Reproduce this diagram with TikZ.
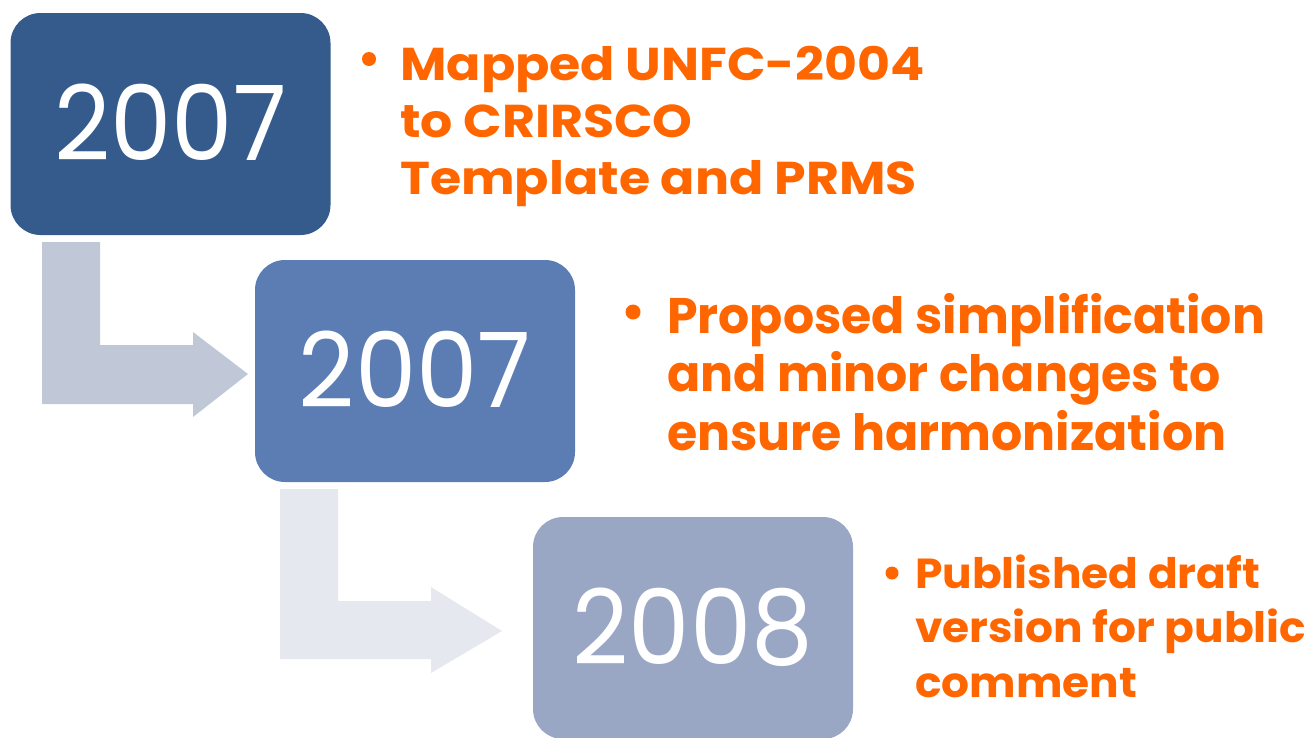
\documentclass[tikz,border=0pt]{standalone}
\usepackage{fontspec}
\setmainfont{Poppins}
\definecolor{boxA}{HTML}{355A8C}
\definecolor{boxB}{HTML}{5B7DB4}
\definecolor{boxC}{HTML}{9AA7C4}
\definecolor{arrA}{HTML}{C0C8D8}
\definecolor{arrB}{HTML}{E6E8EF}
\definecolor{orng}{HTML}{FF6600}
\tikzset{
  yearbox/.style={rounded corners=30pt, minimum width=320pt, minimum height=222pt, inner sep=0pt,
    text=white, font=\fontsize{104}{110}\selectfont},
  bullettext/.style={anchor=base west, inner sep=0pt, text=orng},
  bulletdot/.style={fill=orng},
}
\newcommand{\yr}[1]{\raisebox{3.5pt}{\scalebox{0.94}[1]{#1}}}
\newcommand{\lines}[6]{\scalebox{#2}[1]{\bfseries\fontsize{#1}{#3}\selectfont\begin{tabular}[t]{@{}l@{}}#4\\#5\\#6\end{tabular}}}
\begin{document}
\begin{tikzpicture}[x=1pt,y=-1pt]
\useasboundingbox (0,0) rectangle (1314,737);
% arrows
\fill[arrA] (42,242) -- (100,242) -- (100,345) -- (193,345) -- (193,332) -- (248,374) -- (193,417) -- (193,404) -- (42,404) -- cycle;
\fill[arrB] (280,489) -- (338,489) -- (338,601) -- (431,601) -- (431,587) -- (502,631) -- (431,673) -- (431,659) -- (280,659) -- cycle;
% boxes
\node[yearbox, fill=boxA] (b1) at (170.5,124) {\yr{2007}};
\node[yearbox, fill=boxB] (b2) at (415,371) {\yr{2007}};
\node[yearbox, fill=boxC] (b3) at (693,628) {\yr{2008}};
% bullets
\fill[bulletdot] (369,59) circle (7);
\fill[bulletdot] (633,312) circle (7.5);
\fill[bulletdot] (892,573) circle (6.5);
% texts
\node[bullettext] (t1) at (400,80) {\lines{46}{1.10}{57}{Mapped UNFC-2004}{to CRIRSCO}{Template and PRMS}};
\node[bullettext] (t2) at (667,333) {\lines{50}{0.98}{58.5}{Proposed simplification}{and minor changes to}{ensure harmonization}};
\node[bullettext] (t3) at (915,588) {\lines{42}{1.045}{54.5}{Published draft}{version for public}{comment}};
\end{tikzpicture}
\end{document}
